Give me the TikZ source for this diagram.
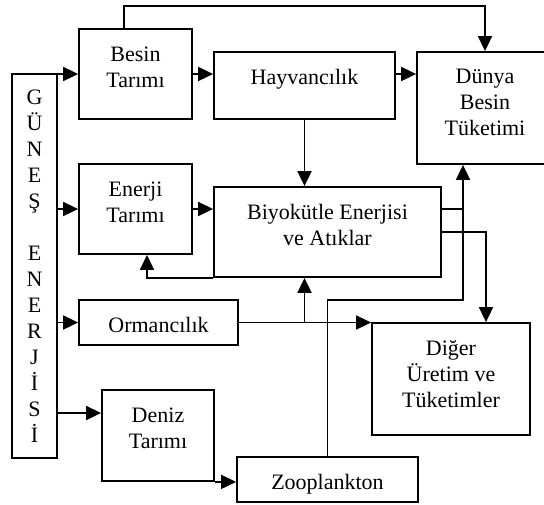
\documentclass[tikz,border=0pt]{standalone}
\usepackage{fontspec}
\setmainfont{Liberation Serif}
\usetikzlibrary{arrows.meta}
\tikzset{%
	box/.style   = {draw, rectangle, line width=0.9pt, inner sep=0pt},
	txt/.style   = {anchor=north, align=center, inner sep=0pt, yshift=-9pt},
	link/.style  = {line width=0.9pt},
	arrow/.style = {line width=0.9pt, -{Triangle[length=7.5pt,width=7pt]}},
}
\begin{document}
\begin{tikzpicture}[x=0.5pt, y=-0.5pt, font=\fontsize{11}{13}\selectfont]
	\useasboundingbox (0,0) rectangle (544,504);
	\node[box, minimum width=22.5pt, minimum height=192pt, align=center] (gunes) at (34.5,266) {G\\Ü\\N\\E\\Ş\\[13pt]E\\N\\E\\R\\J\\İ\\S\\İ};
	\node[box, minimum width=56.5pt, minimum height=45pt, label={[txt]north:Besin\\Tarımı}] (besin) at (135.5,74) {};
	\node[box, minimum width=90.5pt, minimum height=33.5pt, label={[txt]north:Hayvancılık}] (hayvan) at (304.5,85.5) {};
	\node[box, minimum width=68pt, minimum height=56pt, label={[txt]north:Dünya\\Besin\\Tüketimi}] (dunya) at (485,108) {};
	\node[box, minimum width=56.5pt, minimum height=45pt, label={[txt]north:Enerji\\Tarımı}] (enerji) at (135.5,209) {};
	\node[box, minimum width=113.5pt, minimum height=45pt, label={[txt]north:Biyokütle Enerjisi\\ve Atıklar}] (biyo) at (327.5,232) {};
	\node[box, minimum width=79.5pt, minimum height=22.5pt, label={[txt]north:Ormancılık}] (orman) at (158.5,322.5) {};
	\node[box, minimum width=79pt, minimum height=56pt, label={[txt]north:Diğer\\Üretim ve\\Tüketimler}] (diger) at (451,379) {};
	\node[box, minimum width=56pt, minimum height=45.5pt, label={[txt]north:Deniz\\Tarımı}] (deniz) at (158,435.5) {};
	\node[box, minimum width=90.5pt, minimum height=22.5pt, label={[txt]north:Zooplankton}] (zoo) at (327.5,479.5) {};
	\coordinate (topbend) at (124,6);
	\coordinate (riser) at (463,300);

	\draw[arrow] (gunes.east |- besin.west) -- (besin.west);
	\draw[arrow] (gunes.east |- enerji.west) -- (enerji.west);
	\draw[arrow] (gunes.east |- orman.west) -- (orman.west);
	\draw[arrow] (gunes.east |- 0,413) -- (deniz.west |- 0,413);
	\draw[arrow] (besin.east) -- (besin.east -| hayvan.west);
	\draw[arrow] (hayvan.east |- besin.east) -- (dunya.west |- besin.east);
	\draw[arrow] (topbend |- besin.north) |- (topbend) -| (dunya.north);
	\draw[arrow] (hayvan.south) -- (hayvan.south |- biyo.north);
	\draw[arrow] (enerji.east) -- (enerji.east -| biyo.west);
	\draw[arrow] (biyo.south west) -| ([xshift=5.75pt]enerji.south);
	\draw[arrow] (orman.east) -- (orman.east -| diger.west);
	\draw[arrow] (hayvan.south |- orman.east) -- (hayvan.south |- biyo.south);
	\draw[arrow] (deniz.south east) -- (deniz.south east -| zoo.west);
	\draw[arrow] (zoo.north) |- (riser) -- (riser |- dunya.south);
	\draw[link] (biyo.east |- enerji.east) -- (riser |- enerji.east);
	\draw[arrow] (biyo.east) -| ([xshift=17.5pt]diger.north);
\end{tikzpicture}
\end{document}
